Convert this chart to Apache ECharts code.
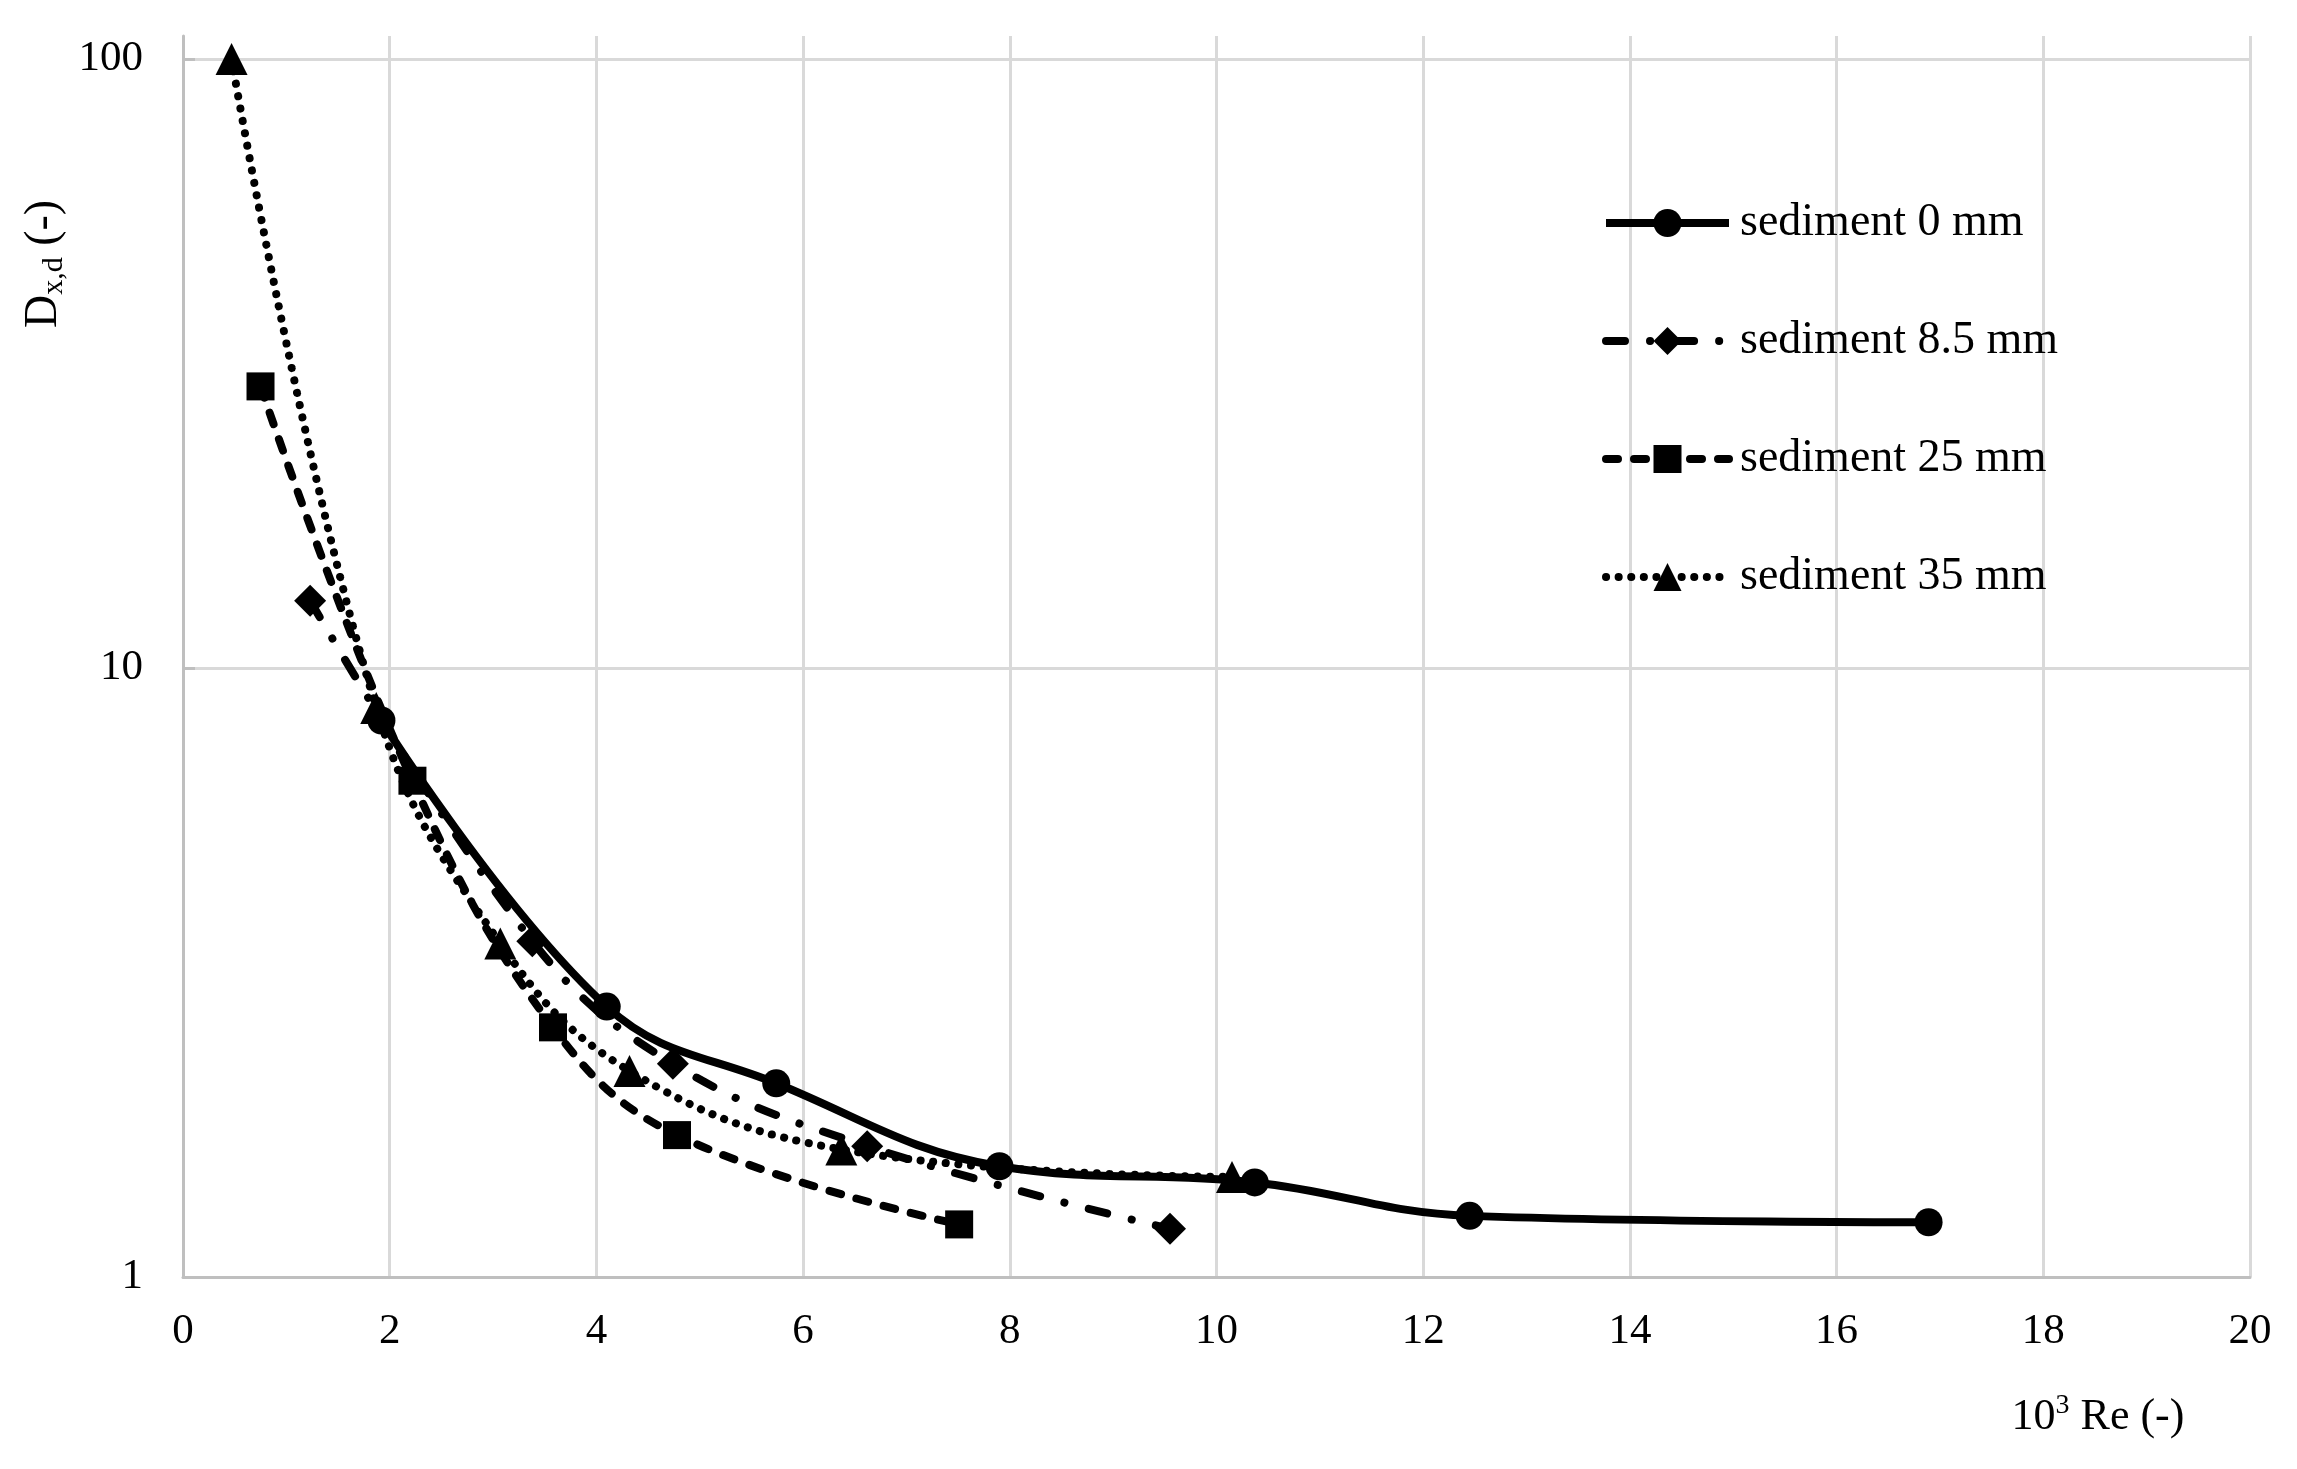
<!DOCTYPE html>
<html>
<head>
<meta charset="utf-8">
<script src="https://cdn.jsdelivr.net/npm/echarts@6/dist/echarts.min.js"></script>
<style>
    html, body { margin: 0; padding: 0; background: #fff; }
    #chartRoot { width: 2297px; height: 1469px; }
</style>
</head>
<body>
<div id="chartRoot"></div>
<script>
// values: 10^3 Re on x, D_x,d on a log y axis
const re0 = [1.92, 4.10, 5.74, 7.90, 10.37, 12.45, 16.89];
const dx0 = [8.2, 2.78, 2.08, 1.52, 1.43, 1.26, 1.23];

const re85 = [1.23, 3.38, 4.74, 6.62, 9.55];
const dx85 = [12.9, 3.56, 2.24, 1.64, 1.20];

const re25 = [0.75, 2.22, 3.58, 4.78, 7.51];
const dx25 = [29.0, 6.53, 2.57, 1.71, 1.22];

const re35 = [0.47, 1.87, 3.07, 4.32, 6.37, 10.15];
const dx35 = [100, 8.6, 3.53, 2.18, 1.62, 1.46];

const seriesNames = ["sediment 0 mm", "sediment 8.5 mm", "sediment 25 mm", "sediment 35 mm"];

const FONT = "Liberation Serif";
const GRID_COLOR = "#d9d9d9";
const AXIS_COLOR = "#bfbfbf";

let pairs = (xs, ys) => xs.map((x, i) => [x, ys[i]]);

let makeSeries = (name, xs, ys, symbol, symbolSize, lineStyle) => ({
    type: "line",
    name,
    xAxisIndex: 0,
    yAxisIndex: 0,
    data: pairs(xs, ys),
    smooth: 0.4,
    symbol,
    symbolSize,
    showAllSymbol: true,
    itemStyle: { color: "#000" },
    lineStyle: Object.assign({ color: "#000", width: 8 }, lineStyle),
    emphasis: { disabled: true }
});

const myChart = echarts.init(document.querySelector("#chartRoot"));

const option = {
    animation: false,
    backgroundColor: "#fff",
    textStyle: { fontFamily: FONT, color: "#000" },
    grid: [
        { left: 183, right: 47, top: 59, bottom: 192 },
        // vertical gridlines and the left axis run a little above the 100 line
        { left: 183, right: 47, top: 36, bottom: 192, z: -1 }
    ],
    xAxis: [
        {
            type: "value",
            gridIndex: 0,
            min: 0,
            max: 20,
            interval: 2,
            axisLine: { lineStyle: { color: AXIS_COLOR, width: 3 } },
            axisTick: { show: false },
            splitLine: { show: false },
            axisLabel: { fontFamily: FONT, fontSize: 43, color: "#000", margin: 33 }
        },
        {
            type: "value",
            gridIndex: 1,
            min: 0,
            max: 20,
            interval: 2,
            axisLine: { show: false },
            axisTick: { show: false },
            axisLabel: { show: false },
            splitLine: { show: true, lineStyle: { color: GRID_COLOR, width: 3 } }
        }
    ],
    yAxis: [
        {
            type: "log",
            gridIndex: 0,
            logBase: 10,
            min: 1,
            max: 100,
            axisLine: { show: false },
            axisTick: { show: true, inside: true, length: 12, lineStyle: { color: AXIS_COLOR, width: 3 } },
            splitLine: { show: true, lineStyle: { color: GRID_COLOR, width: 3 } },
            minorTick: { show: false },
            axisLabel: { fontFamily: FONT, fontSize: 43, color: "#000", margin: 40 }
        },
        {
            type: "value",
            gridIndex: 1,
            min: 0,
            max: 1,
            axisLine: { show: true, lineStyle: { color: AXIS_COLOR, width: 3 } },
            axisTick: { show: false },
            axisLabel: { show: false },
            splitLine: { show: false }
        }
    ],
    legend: {
        orient: "vertical",
        left: 1602,
        top: 200,
        padding: 0,
        itemWidth: 123,
        itemHeight: 35,
        itemGap: 72,
        selectedMode: false,
        lineStyle: { width: 8 },
        textStyle: { fontFamily: FONT, fontSize: 46, color: "#000", padding: [0, 0, 0, 6] },
        data: seriesNames
    },
    graphic: [
        {
            // y axis title, rotated
            type: "text",
            x: 44,
            y: 264,
            rotation: Math.PI / 2,
            style: {
                text: "{a|D}{s|x,d}{a| (-)}",
                align: "center",
                verticalAlign: "middle",
                rich: {
                    a: { fontFamily: FONT, fontSize: 46, lineHeight: 50, fill: "#000" },
                    s: { fontFamily: FONT, fontSize: 30, lineHeight: 50, verticalAlign: "bottom", fill: "#000" }
                }
            }
        },
        {
            type: "text",
            x: 2098,
            y: 1417,
            style: {
                text: "{a|10}{p|3}{a| Re (-)}",
                align: "center",
                verticalAlign: "middle",
                rich: {
                    a: { fontFamily: FONT, fontSize: 44, lineHeight: 50, fill: "#000" },
                    p: { fontFamily: FONT, fontSize: 28, lineHeight: 50, verticalAlign: "top", fill: "#000" }
                }
            }
        }
    ],
    series: [
        makeSeries(seriesNames[0], re0, dx0, "circle", 28, { type: "solid" }),
        makeSeries(seriesNames[1], re85, dx85, "diamond", 32, { type: [19, 25, 0.1, 25], cap: "round" }),
        makeSeries(seriesNames[2], re25, dx25, "rect", 28, { type: [12, 16], cap: "round" }),
        makeSeries(seriesNames[3], re35, dx35, "triangle", 32, { type: [0.1, 12.5], cap: "round" })
    ]
};
myChart.setOption(option, true);
</script>
</body>
</html>
